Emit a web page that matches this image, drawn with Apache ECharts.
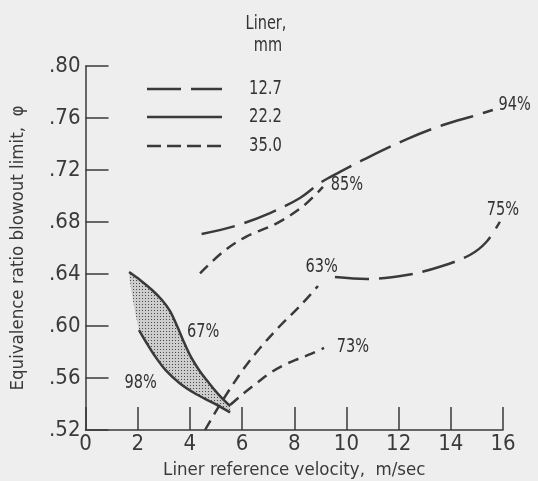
<!DOCTYPE html>
<html><head><meta charset="utf-8">
<script src="https://cdn.jsdelivr.net/npm/echarts@6/dist/echarts.min.js"></script>
<style>html,body{margin:0;padding:0;background:#eeeeee;}#c{width:538px;height:481px;}</style>
</head><body><div id="c"></div>
<script>
// ---- data ----
var xTicks = [0, 2, 4, 6, 8, 10, 12, 14, 16];
var yTicks = [0.52, 0.56, 0.60, 0.64, 0.68, 0.72, 0.76, 0.80];
var legendNames = ['12.7', '22.2', '35.0'];
// 12.7 mm (long dash)
var liner127_upper = [[4.45,0.6708],[5.73,0.6769],[7.07,0.6869],[8.22,0.6985],[8.99,0.7100],[9.75,0.7185],[10.63,0.7277],[12.32,0.7438],[13.70,0.7546],[15.0,0.7623],[15.61,0.7662]];
var liner127_lower = [[9.56,0.6377],[10.77,0.6362],[12.31,0.6392],[13.58,0.6456],[14.73,0.6546],[15.37,0.6648],[15.88,0.6802]];
// 22.2 mm (solid, shaded band)
var liner222_upper = [[1.67,0.6415],[2.09,0.6354],[2.55,0.6277],[2.93,0.6200],[3.24,0.6115],[3.51,0.6000],[3.77,0.5877],[4.04,0.5762],[4.35,0.5662],[4.73,0.5562],[5.12,0.5469],[5.54,0.5385]];
var liner222_lower = [[2.05,0.5969],[2.32,0.5877],[2.66,0.5769],[3.08,0.5658],[3.62,0.5558],[4.23,0.5477],[4.89,0.5408],[5.54,0.5335]];
// 35.0 mm (short dash)
var liner350_a = [[4.39,0.6405],[5.27,0.657],[6.18,0.669],[7.33,0.679],[8.33,0.692],[9.10,0.707]];
var liner350_b = [[4.58,0.5200],[4.96,0.5331],[5.46,0.5492],[6.03,0.5662],[6.69,0.5831],[7.45,0.6000],[8.22,0.6154],[8.91,0.6308]];
var liner350_c = [[5.54,0.5392],[6.03,0.5477],[6.57,0.5562],[7.07,0.5638],[7.61,0.5700],[8.14,0.5746],[8.64,0.5785],[9.14,0.5831]];
// percentage annotations [x, y, text]
var annotations = [[16.45,0.770,'94%'],[10.02,0.7085,'85%'],[16.0,0.689,'75%'],[9.05,0.6454,'63%'],[10.25,0.584,'73%'],[4.51,0.5956,'67%'],[2.11,0.5559,'98%']];

var FONT = "'Liberation Sans Narrow','DejaVu Sans Condensed',sans-serif";
var INK = '#3a3a3a';
var LONG = [34, 10], SHORT = [11, 7];

var pat = document.createElement('canvas');
pat.width = 3; pat.height = 3;
var pc = pat.getContext('2d');
pc.fillStyle = '#cdcdcd'; pc.fillRect(0,0,3,3);
pc.fillStyle = '#4a4a4a'; pc.fillRect(1,1,1,1);

function lineSeries(data, dash) {
  return {type:'line', data:data, smooth:0.35, symbol:'none', silent:true,
    lineStyle:{color:INK, width:2.5, type:dash}, z:3};
}

var band = liner222_upper.concat(liner222_lower.slice().reverse());

var chart = echarts.init(document.getElementById('c'), null, {renderer:'canvas'});
chart.setOption({
  backgroundColor:'#eeeeee',
  animation:false,
  grid:{left:85.5, right:35, top:66, bottom:51, outerBoundsMode:'none', containLabel:false},
  xAxis:{type:'value', min:0, max:16, interval:2,
    name:'Liner reference velocity,  m/sec', nameLocation:'middle', nameGap:31,
    nameTextStyle:{fontFamily:FONT, fontSize:18.5, color:INK},
    axisLine:{lineStyle:{color:INK, width:1.5}},
    axisTick:{inside:true, length:23, lineStyle:{color:INK, width:1.5}},
    axisLabel:{fontFamily:FONT, fontSize:22, color:INK, margin:3,
      formatter:function(v){return xTicks.indexOf(v)>=0 ? String(v) : '';}},
    splitLine:{show:false}},
  yAxis:{type:'value', min:0.52, max:0.80, interval:0.04,
    name:'Equivalence ratio blowout limit,  \u03c6', nameLocation:'middle', nameGap:58,
    nameTextStyle:{fontFamily:FONT, fontSize:18.5, color:INK},
    axisLine:{lineStyle:{color:INK, width:1.5}},
    axisTick:{inside:true, length:23, lineStyle:{color:INK, width:1.5}},
    axisLabel:{fontFamily:FONT, fontSize:22, color:INK, margin:5,
      formatter:function(v){return v.toFixed(2).replace(/^0/,'');}},
    splitLine:{show:false}},
  series:[
    {type:'custom', silent:true, z:2, data:[0],
      renderItem:function(params, api){
        var pts = band.map(function(p){return api.coord(p);});
        return {type:'polygon', shape:{points:pts, smooth:0.2},
          style:{fill:{image:pat, repeat:'repeat'}, stroke:null}};
      }},
    lineSeries(liner127_upper, LONG),
    lineSeries(liner127_lower, LONG),
    lineSeries(liner222_upper, 'solid'),
    lineSeries(liner222_lower, 'solid'),
    lineSeries(liner350_a, SHORT),
    lineSeries(liner350_b, SHORT),
    lineSeries(liner350_c, SHORT),
    {type:'custom', silent:true, z:4, data:annotations,
      renderItem:function(params, api){
        var p = api.coord([api.value(0), api.value(1)]);
        return {type:'text', x:p[0], y:p[1], scaleX:0.85,
          style:{text:annotations[params.dataIndex][2], fontFamily:FONT, fontSize:19,
            fill:'#333', align:'center', verticalAlign:'middle'}};
      }}
  ],
  graphic:[
    {type:'text', x:266, y:24, scaleX:0.85, style:{text:'Liner,', fontFamily:FONT, fontSize:19, fill:'#333', align:'center', verticalAlign:'middle'}},
    {type:'text', x:268, y:46, scaleX:0.85, style:{text:'mm', fontFamily:FONT, fontSize:19, fill:'#333', align:'center', verticalAlign:'middle'}},
    {type:'line', shape:{x1:147,y1:89,x2:222,y2:89}, style:{stroke:INK, lineWidth:2.5, lineDash:LONG}},
    {type:'line', shape:{x1:147,y1:117,x2:222,y2:117}, style:{stroke:INK, lineWidth:2.5}},
    {type:'line', shape:{x1:147,y1:146,x2:222,y2:146}, style:{stroke:INK, lineWidth:2.5, lineDash:[14,6]}},
    {type:'text', x:249, y:89, scaleX:0.82, style:{text:legendNames[0], fontFamily:FONT, fontSize:20, fill:'#333', verticalAlign:'middle'}},
    {type:'text', x:249, y:117, scaleX:0.82, style:{text:legendNames[1], fontFamily:FONT, fontSize:20, fill:'#333', verticalAlign:'middle'}},
    {type:'text', x:249, y:146, scaleX:0.82, style:{text:legendNames[2], fontFamily:FONT, fontSize:20, fill:'#333', verticalAlign:'middle'}}
  ]
});
</script></body></html>
